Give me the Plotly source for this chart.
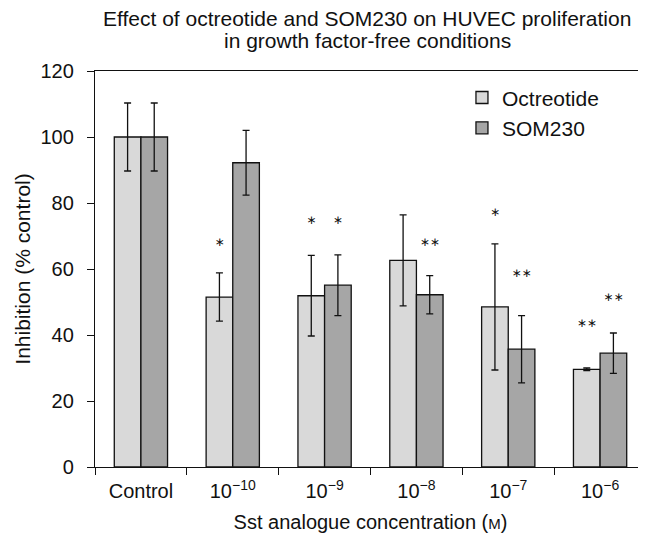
import plotly.graph_objects as go

categories = ["Control", "10<sup>−10</sup>", "10<sup>−9</sup>", "10<sup>−8</sup>", "10<sup>−7</sup>", "10<sup>−6</sup>"]
octreotide = [100.0, 51.5, 51.9, 62.6, 48.5, 29.6]
octreotide_err = [10.3, 7.3, 12.2, 13.8, 19.1, 0.4]
som230 = [100.0, 92.2, 55.1, 52.2, 35.7, 34.5]
som230_err = [10.3, 9.8, 9.2, 5.8, 10.2, 6.1]
oct_sig = ["", "∗", "∗", "", "∗", "∗∗"]
oct_sig_y = [None, 68.0, 74.5, None, 77.1, 43.2]
som_sig = ["", "", "∗", "∗∗", "∗∗", "∗∗"]
som_sig_y = [None, None, 74.5, 68.0, 58.6, 51.1]
title_lines = ["Effect of octreotide and SOM230 on HUVEC proliferation",
               "in growth factor-free conditions"]

FONT = "Liberation Sans, Arial, Helvetica, sans-serif"
INK = "#111111"


def sig_points(labels, heights):
    xs, ys, ts = [], [], []
    for c, t, h in zip(categories, labels, heights):
        if t:
            xs.append(c)
            ys.append(h)
            ts.append(t)
    return xs, ys, ts


fig = go.Figure()
fig.add_trace(go.Bar(
    x=categories, y=octreotide, name="Octreotide", offsetgroup="oct",
    marker=dict(color="#d9d9d9", line=dict(color=INK, width=1.3)),
    error_y=dict(type="data", array=octreotide_err, color=INK, thickness=1.3, width=3.5),
))
fig.add_trace(go.Bar(
    x=categories, y=som230, name="SOM230", offsetgroup="som",
    marker=dict(color="#a6a6a6", line=dict(color=INK, width=1.3)),
    error_y=dict(type="data", array=som230_err, color=INK, thickness=1.3, width=3.5),
))
ox, oy, ot = sig_points(oct_sig, oct_sig_y)
fig.add_trace(go.Scatter(
    x=ox, y=oy, text=ot, mode="text", offsetgroup="oct",
    textfont=dict(size=12, color=INK, family="DejaVu Sans"), showlegend=False, hoverinfo="skip",
))
sx, sy, st = sig_points(som_sig, som_sig_y)
fig.add_trace(go.Scatter(
    x=sx, y=sy, text=st, mode="text", offsetgroup="som",
    textfont=dict(size=12, color=INK, family="DejaVu Sans"), showlegend=False, hoverinfo="skip",
))

# two title lines placed individually (tighter leading than a <br> title)
for line, ypos in zip(title_lines, [1.133, 1.078]):
    fig.add_annotation(
        text=line, xref="paper", yref="paper", x=0.494, y=ypos,
        xanchor="center", yanchor="middle", showarrow=False,
        font=dict(size=21, color=INK, family=FONT),
    )

fig.update_layout(
    width=646, height=537,
    margin=dict(l=87, r=8, t=62.7, b=78.3, autoexpand=False),
    paper_bgcolor="white", plot_bgcolor="white",
    barmode="group", bargap=0.42, bargroupgap=0.0,
    scattermode="group",
    font=dict(family=FONT, size=20, color=INK),
    legend=dict(
        x=0.666, y=0.984, xanchor="left", yanchor="top",
        bgcolor="rgba(0,0,0,0)", font=dict(size=21),
        itemwidth=30,
    ),
    showlegend=True,
)
fig.update_xaxes(
    type="category", showline=True, linecolor=INK, linewidth=1.3,
    mirror=True, ticks="outside", ticklen=7, tickcolor=INK, tickwidth=1.3,
    tickson="boundaries", showgrid=False, tickfont=dict(size=20), automargin=False,
    ticklabelstandoff=6,
    title=dict(text="Sst analogue concentration (<span style='font-size:15px'>M</span>)",
               font=dict(size=20), standoff=13),
)
fig.update_yaxes(
    range=[0, 120], dtick=20, showline=True, linecolor=INK, linewidth=1.3,
    ticks="outside", ticklen=7, tickcolor=INK, tickwidth=1.3,
    showgrid=False, zeroline=False, tickfont=dict(size=20), ticklabelstandoff=9,
    automargin=False,
    title=dict(text="Inhibition (% control)", font=dict(size=21), standoff=4),
)

fig.write_html("out.html")
